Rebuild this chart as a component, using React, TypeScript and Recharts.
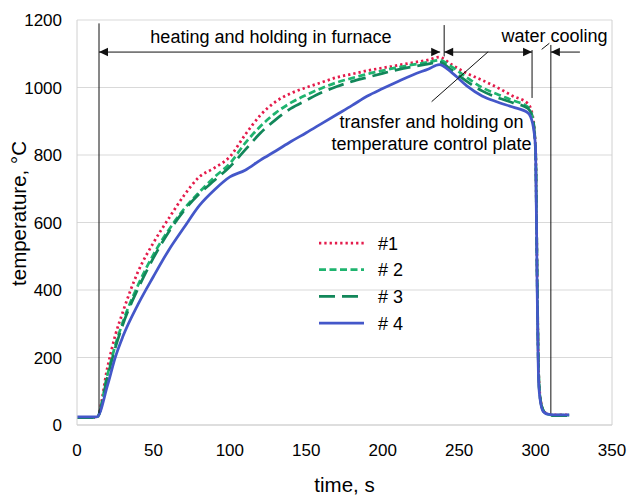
import {
  LineChart,
  Line,
  XAxis,
  YAxis,
  CartesianGrid,
  ReferenceLine,
  ReferenceDot,
  Legend,
  Label
} from 'recharts';

// time, s
const time = [
  0, 13, 20, 25, 30, 40, 50, 60, 70, 80,
  90, 100, 110, 120, 130, 140, 150, 160, 170, 180,
  190, 200, 210, 220, 230, 237, 245, 255, 265, 275,
  285, 295, 298, 300, 301, 302, 303, 305, 308, 312,
  322
];

// temperature, °C
const sample1 = [
  22, 22, 172, 265, 335, 455, 540, 612, 680, 735,
  762, 795, 860, 918, 958, 983, 1000, 1015, 1030, 1040,
  1050, 1058, 1066, 1074, 1082, 1090, 1068, 1042, 1022, 1000,
  975, 952, 918, 820, 450, 160, 85, 45, 33, 30,
  30
];
const sample2 = [
  22, 22, 150, 235, 305, 415, 505, 578, 640, 690,
  735, 775, 835, 885, 925, 955, 978, 998, 1015, 1028,
  1040, 1050, 1060, 1068, 1075, 1081, 1062, 1030, 1000, 980,
  962, 942, 912, 815, 450, 155, 82, 44, 32, 29,
  29
];
const sample3 = [
  22, 22, 145, 228, 298, 405, 495, 572, 635, 685,
  725, 765, 815, 865, 905, 938, 962, 985, 1003, 1018,
  1030, 1042, 1053, 1062, 1070, 1075, 1052, 1018, 990, 970,
  955, 938, 910, 812, 450, 150, 80, 43, 31, 28,
  28
];
const sample4 = [
  24, 24, 118, 200, 262, 358, 440, 518, 585, 650,
  697, 735, 755, 785, 812, 840, 866, 893, 920, 947,
  975, 997, 1018, 1038, 1055, 1068, 1045, 1005, 975, 957,
  942, 925, 895, 820, 420, 130, 75, 40, 32, 30,
  30
];

const xTicks = [0, 50, 100, 150, 200, 250, 300, 350];
const yTicks = [0, 200, 400, 600, 800, 1000, 1200];

const SERIES = [
  { key: 's1', name: '#1', values: sample1, color: '#e41b4b', dash: '2.3 3' },
  { key: 's2', name: '# 2', values: sample2, color: '#1fb46f', dash: '7 3.5' },
  { key: 's3', name: '# 3', values: sample3, color: '#12875a', dash: '16 7' },
  { key: 's4', name: '# 4', values: sample4, color: '#4457c9', dash: undefined }
];

const data = time.map((t, i) => {
  const row: { [k: string]: number } = { t };
  SERIES.forEach(s => {
    row[s.key] = s.values[i];
  });
  return row;
});

const FONT = '"Liberation Sans", Arial, sans-serif';
const INK = '#111';

// horizontal dimension line with filled arrow heads
const arrowLine = (startHead: boolean, endHead: boolean) => (props: any) => {
  const { x1, y1, x2, y2 } = props;
  const dir = Math.sign(x2 - x1) || 1;
  const head = (tip: number, d: number) => (
    <polygon
      points={`${tip},${y1} ${tip - d * 9},${y1 - 4.3} ${tip - d * 9},${y1 + 4.3}`}
      fill={INK}
    />
  );
  return (
    <g>
      <line x1={x1} y1={y1} x2={x2} y2={y2} stroke={INK} strokeWidth={1} />
      {startHead && head(x1, -dir)}
      {endHead && head(x2, dir)}
    </g>
  );
};

const plainLine = (props: any) => (
  <line x1={props.x1} y1={props.y1} x2={props.x2} y2={props.y2} stroke={INK} strokeWidth={1} />
);

const note = (text: string) => (props: any) => (
  <text
    x={props.cx}
    y={props.cy}
    textAnchor="middle"
    fontSize={18}
    fontFamily={FONT}
    fill="#000"
  >
    {text}
  </text>
);

const LegendBox = () => (
  <svg width={120} height={110} style={{ display: 'block' }}>
    {SERIES.map((s, i) => {
      const y = 13 + i * 26.7;
      return (
        <g key={s.key}>
          <line
            x1={3}
            x2={48}
            y1={y}
            y2={y}
            stroke={s.color}
            strokeWidth={2.75}
            strokeDasharray={s.dash}
          />
          <text x={62} y={y + 6.5} fontSize={18} fontFamily={FONT} fill="#000">
            {s.name}
          </text>
        </g>
      );
    })}
  </svg>
);

export default function App() {
  return (
    <div style={{ position: 'absolute', left: 0, top: 0, width: 630, height: 497, background: '#fff' }}>
      <LineChart
        width={630}
        height={497}
        data={data}
        margin={{ top: 20, right: 18, left: 0, bottom: 0 }}
      >
        <CartesianGrid vertical={false} stroke="#d9d9d9" />
        <XAxis
          dataKey="t"
          type="number"
          domain={[0, 350]}
          ticks={xTicks}
          height={72}
          tickLine={false}
          tickSize={0}
          tickMargin={19}
          axisLine={{ stroke: '#d0d0d0' }}
          tick={{ fontSize: 17, fill: '#000', fontFamily: FONT }}
        >
          <Label
            content={({ viewBox }: any) => (
              <text
                x={viewBox.x + viewBox.width / 2}
                y={viewBox.y + 67}
                textAnchor="middle"
                fontSize={20.5}
                fontFamily={FONT}
                fill="#000"
              >
                time, s
              </text>
            )}
          />
        </XAxis>
        <YAxis
          type="number"
          domain={[0, 1200]}
          ticks={yTicks}
          width={77}
          tickLine={false}
          tickSize={0}
          tickMargin={15}
          axisLine={{ stroke: '#d0d0d0' }}
          tick={{ fontSize: 17, fill: '#000', fontFamily: FONT }}
        >
          <Label
            content={({ viewBox }: any) => {
              const cy = viewBox.y + viewBox.height / 2 - 9;
              return (
                <text
                  transform={`translate(26, ${cy}) rotate(-90)`}
                  textAnchor="middle"
                  fontSize={20.5}
                  fontFamily={FONT}
                  fill="#000"
                >
                  temperature, °C
                </text>
              );
            }}
          />
        </YAxis>

        {/* right frame edge */}
        <ReferenceLine x={350} stroke="#d0d0d0" />

        {SERIES.map(s => (
          <Line
            key={s.key}
            dataKey={s.key}
            name={s.name}
            type="monotone"
            stroke={s.color}
            strokeWidth={2.75}
            strokeDasharray={s.dash}
            dot={false}
            activeDot={false}
            isAnimationActive={false}
          />
        ))}

        {/* stage boundaries */}
        <ReferenceLine segment={[{ x: 14.4, y: 1190 }, { x: 14.4, y: 35 }]} shape={plainLine} />
        <ReferenceLine segment={[{ x: 240.2, y: 1185 }, { x: 240.2, y: 1092 }]} shape={plainLine} />
        <ReferenceLine segment={[{ x: 297.7, y: 1111 }, { x: 297.7, y: 969 }]} shape={plainLine} />
        <ReferenceLine segment={[{ x: 310, y: 1126 }, { x: 310, y: 35 }]} shape={plainLine} />

        {/* stage spans */}
        <ReferenceLine segment={[{ x: 14.4, y: 1105 }, { x: 237.6, y: 1105 }]} shape={arrowLine(true, true)} />
        <ReferenceLine segment={[{ x: 240.2, y: 1105 }, { x: 297.7, y: 1105 }]} shape={arrowLine(true, true)} />
        <ReferenceLine segment={[{ x: 310, y: 1105 }, { x: 329, y: 1105 }]} shape={arrowLine(true, false)} />

        {/* leaders */}
        <ReferenceLine segment={[{ x: 304, y: 1113 }, { x: 309, y: 1131 }]} shape={plainLine} />
        <ReferenceLine segment={[{ x: 232, y: 958 }, { x: 269, y: 1106 }]} shape={plainLine} />

        <ReferenceDot x={126.9} y={1132} r={0} shape={note('heating and holding in furnace')} />
        <ReferenceDot x={312.4} y={1135} r={0} shape={note('water cooling')} />
        <ReferenceDot x={231.9} y={879} r={0} shape={note('transfer and holding on')} />
        <ReferenceDot x={231.9} y={816} r={0} shape={note('temperature control plate')} />

        <Legend
          layout="vertical"
          align="center"
          verticalAlign="middle"
          wrapperStyle={{ left: 316, top: 230, width: 120 }}
          content={() => <LegendBox />}
        />
      </LineChart>
    </div>
  );
}
